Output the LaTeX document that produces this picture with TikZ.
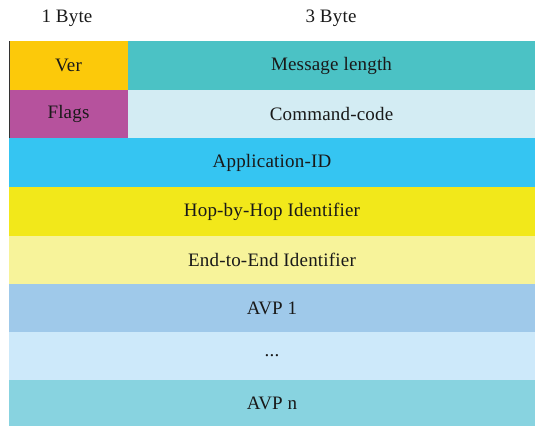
\documentclass[tikz,border=0pt]{standalone}
\usepackage{fontspec}
\setmainfont{Liberation Serif}[LetterSpace=1]
\definecolor{cver}{HTML}{FCC90A}
\definecolor{cmsg}{HTML}{4BC2C5}
\definecolor{cflags}{HTML}{B6529D}
\definecolor{ccmd}{HTML}{D3ECF3}
\definecolor{capp}{HTML}{35C5F2}
\definecolor{chop}{HTML}{F2E81A}
\definecolor{cend}{HTML}{F7F39A}
\definecolor{cavpa}{HTML}{9FC9EA}
\definecolor{cdots}{HTML}{CDE9FA}
\definecolor{cavpn}{HTML}{88D3E0}
\tikzset{
  cell/.style={draw=none, inner sep=0pt, outer sep=0pt, font=\fontsize{19}{21}\selectfont, text=black!90},
  lbl/.style={inner sep=0pt, font=\fontsize{19}{21}\selectfont, text=black!90},
}
\begin{document}
\begin{tikzpicture}[x=1pt,y=-1pt]
\useasboundingbox (0,0) rectangle (535,426);
\node[lbl] (b1) at (67,18) {1 Byte};
\node[lbl] (b3) at (331,18) {3 Byte};
% row 1
\node[cell, fill=cver, minimum width=119pt, minimum height=49pt] (ver) at (68.5,65.5) {Ver};
\node[cell, fill=cmsg, minimum width=407pt, minimum height=49pt] (msg) at (331.5,65.5) {Message length};
% row 2
\node[cell, fill=cflags, minimum width=119pt, minimum height=48pt] (flags) at (68.5,114) {Flags};
\node[cell, fill=ccmd, minimum width=407pt, minimum height=48pt] (cmd) at (331.5,114) {Command-code};
% full rows
\node[cell, fill=capp, minimum width=526pt, minimum height=49pt] (app) at (272,162.5) {Application-ID};
\node[cell, fill=chop, minimum width=526pt, minimum height=49pt] (hop) at (272,211.5) {Hop-by-Hop Identifier};
\node[cell, fill=cend, minimum width=526pt, minimum height=48pt] (end) at (272,260) {End-to-End Identifier};
\node[cell, fill=cavpa, minimum width=526pt, minimum height=48pt] (avpa) at (272,308) {AVP 1};
\node[cell, fill=cdots, minimum width=526pt, minimum height=48pt] (dots) at (272,356) {...};
\node[cell, fill=cavpn, minimum width=526pt, minimum height=46pt] (avpn) at (272,403) {AVP n};
\draw[line width=1pt, black!80] (ver.north west) -- (flags.south west);
\end{tikzpicture}
\end{document}
